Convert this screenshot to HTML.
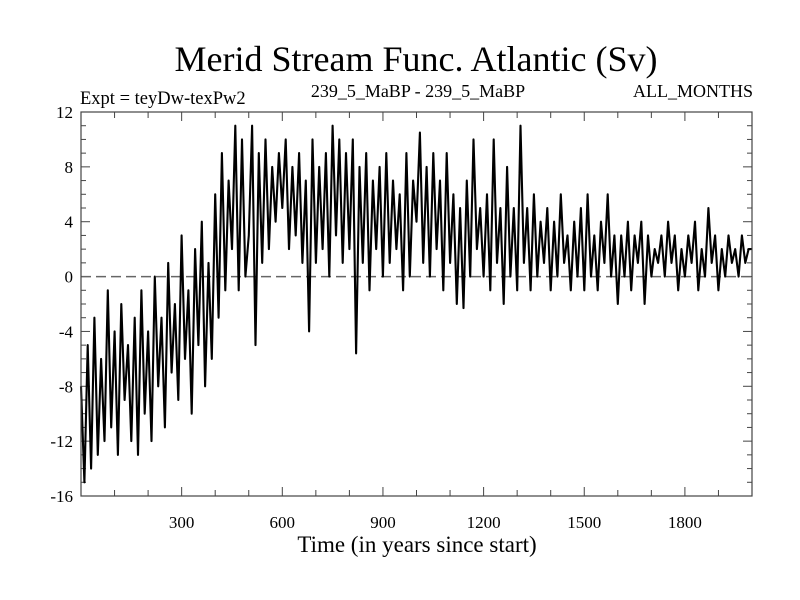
<!DOCTYPE html>
<html><head><meta charset="utf-8"><style>
body{margin:0;background:#fff}
svg{display:block}
text{font-family:"Liberation Serif",serif;fill:#000}
</style></head><body>
<svg id="chart" width="800" height="600">
<text x="416" y="71" font-size="36" text-anchor="middle">Merid Stream Func. Atlantic (Sv)</text>
<text x="80" y="104" font-size="18.5">Expt = teyDw-texPw2</text>
<text x="418" y="97" font-size="18" text-anchor="middle">239_5_MaBP - 239_5_MaBP</text>
<text x="753" y="97" font-size="18" text-anchor="end">ALL_MONTHS</text>
<text x="417" y="552" font-size="23" text-anchor="middle">Time (in years since start)</text>
<g id="axes"></g>
<line id="zero" stroke="#666" stroke-width="1.5" stroke-dasharray="10,5"/>
<path id="series" fill="none" stroke="#000" stroke-width="2.1" stroke-linejoin="round"/>
<rect x="81" y="112" width="671" height="384" fill="none" stroke="#444" stroke-width="1.2"/>
</svg>
<script>
const years0 = 0, yearStep = 10;
const values = [
-8,-15,-5,-14,-3,-13,-6,-12,-1,-11,-4,-13,-2,-9,-5,-12,-3,-13,-1,-10,
-4,-12,0,-8,-3,-11,1,-7,-2,-9,3,-6,-1,-10,2,-5,4,-8,1,-6,
6,-3,9,-1,7,2,11,-1,10,0,3,11,-5,9,1,10,2,8,4,9,
5,10,2,8,3,9,1,7,-4,10,1,8,2,9,0,11,3,10,1,9,
2,10,-5.6,8,1,9,-1,7,2,8,0,9,1,7,2,6,-1,9,0,7,
4,10.5,1,8,0,9,2,7,-1,9,1,6,-2,5,-2.3,7,0,10,2,5,
0,6,-1,10,1,5,-2,8,0,5,-1,11,1,5,-1,6,0,4,1,5,
-1,4,0,6,1,3,-1,4,0,5,-1,6,0,3,-1,4,1,6,0,3,
-2,3,0,4,-1,3,1,4,-2,3,0,2,1,3,0,4,1,3,-1,2,
0,3,1,4,-1,2,0,5,1,3,-1,2,0,3,1,2,0,3,1,2,2];
const xTickLabels = [300,600,900,1200,1500,1800];
const yTickLabels = [-16,-12,-8,-4,0,4,8,12];
const xMin=0,xMax=2000,yMin=-16,yMax=12;
const L=81,R=752,T=112,B=496;
const sx=v=>L+(v-xMin)/(xMax-xMin)*(R-L);
const sy=v=>B-(v-yMin)/(yMax-yMin)*(B-T);
const NS="http://www.w3.org/2000/svg";
const axes=document.getElementById('axes');
function ln(x1,y1,x2,y2,name){const e=document.createElementNS(NS,'line');
e.setAttribute('x1',x1);e.setAttribute('y1',y1);e.setAttribute('x2',x2);e.setAttribute('y2',y2);
e.setAttribute('stroke','#444');e.setAttribute('stroke-width','1');


axes.appendChild(e);}
function tx(x,y,s,anchor,name){const e=document.createElementNS(NS,'text');
e.setAttribute('x',x);e.setAttribute('y',y);e.setAttribute('font-size','17');e.setAttribute('text-anchor',anchor);e.textContent=s;


axes.appendChild(e);}
for(let v=100;v<xMax;v+=100){const x=sx(v),len=(v%300===0)?9:6;ln(x,B,x,B-len,'x-tick');ln(x,T,x,T+len,'x-tick-top');}
for(let v=yMin+1;v<yMax;v++){const y=sy(v),len=(v%4===0)?9:5;ln(L,y,L+len,y,'y-tick');ln(R,y,R-len,y,'y-tick-right');}
xTickLabels.forEach(v=>tx(sx(v),528,String(v),'middle','x-tick-label'));
yTickLabels.forEach(v=>tx(L-8,sy(v)+6,String(v),'end','y-tick-label'));
const z=document.getElementById('zero');
z.setAttribute('x1',L);z.setAttribute('x2',R);z.setAttribute('y1',sy(0));z.setAttribute('y2',sy(0));
document.getElementById('series').setAttribute('d',values.map((v,i)=>(i?'L':'M')+sx(years0+i*yearStep).toFixed(1)+','+sy(v).toFixed(1)).join(''));
</script>
</body></html>
